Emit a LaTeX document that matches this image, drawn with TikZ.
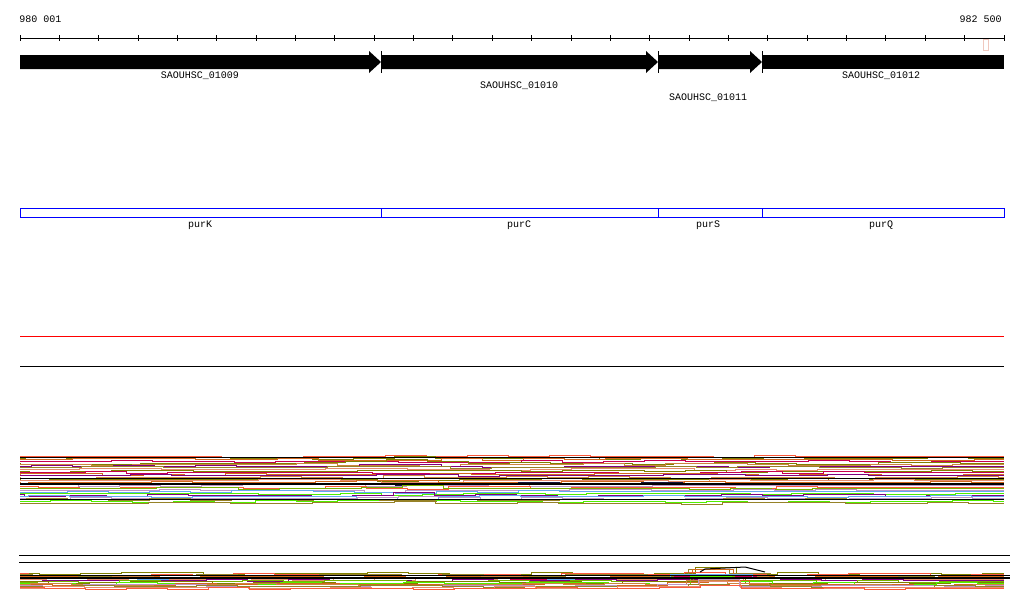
\documentclass[tikz,border=0pt]{standalone}
\usepackage{fontspec}
\setmainfont{Liberation Mono}
\usetikzlibrary{positioning}

\definecolor{olivetr}{RGB}{128,128,0}
\definecolor{rusttr}{RGB}{210,105,30}
\definecolor{tomatotr}{RGB}{250,90,60}
\definecolor{plumtr}{RGB}{128,0,128}
\definecolor{crimsontr}{RGB}{200,0,80}
\definecolor{tantr}{RGB}{205,133,63}
\definecolor{skytr}{RGB}{100,170,240}
\definecolor{limetr}{RGB}{80,240,0}
\definecolor{lilactr}{RGB}{190,150,200}
\definecolor{navytr}{RGB}{20,20,60}
\definecolor{khakitr}{RGB}{150,130,40}
\definecolor{salmontr}{RGB}{230,140,110}
\definecolor{greentr}{RGB}{120,180,0}
\definecolor{pinkbox}{RGB}{240,200,190}

\tikzset{
  lbl/.style={font=\fontsize{10}{11}\selectfont, inner sep=0pt},
  track/.style={line width=1pt},
  gene/.style={fill=black},
  featbox/.style={draw=blue, line width=1pt}
}

\begin{document}
\begin{tikzpicture}[x=1pt, y=-1pt, line width=1pt]
\useasboundingbox[fill=white] (0,0) rectangle (1024,611);
\pgfmathsetseed{11}

% ruler
\node[lbl, anchor=west] (start) at (19,19) {980 001};
\node[lbl, anchor=east] (stop) at (1002,19) {982 500};
\draw (20,38) -- (1004,38);
\foreach \t in {0,...,25}
  \draw ({20+\t*39.36},35) -- ++(0,6);
\draw[pinkbox] (983,39) rectangle (988,50);

% genes
\foreach \xa/\xb in {20/381, 382/658, 659/762}
  \fill[gene] (\xa,55) -- ({\xb-12},55) -- ({\xb-12},51) -- (\xb,62)
    -- ({\xb-12},73) -- ({\xb-12},69) -- (\xa,69) -- cycle;
\fill[gene] (763,55) rectangle (1004,69);
\foreach \xs in {381,658,762}
  \draw (\xs,51) -- (\xs,73);
\node[lbl] (g09) at (200,76) {SAOUHSC\_01009};
\node[lbl] (g10) at (519,86) {SAOUHSC\_01010};
\node[lbl] (g11) at (708,98) {SAOUHSC\_01011};
\node[lbl] (g12) at (881,76) {SAOUHSC\_01012};

% features
\foreach \xa/\xb in {20/381, 381/658, 658/762, 762/1004}
  \draw[featbox] (\xa,208) rectangle (\xb,217);
\node[lbl] (purK) at (200,225) {purK};
\node[lbl] (purC) at (519,225) {purC};
\node[lbl] (purS) at (708,225) {purS};
\node[lbl] (purQ) at (881,225) {purQ};

% lines
\draw[red] (20,336) -- (1004,336);
\draw (20,366) -- (1004,366);
\draw (19,555) -- (1010,555);
\draw (19,562) -- (1010,562);

% coverage band 1
\foreach \c [count=\i] in {tomatotr, olivetr, rusttr, crimsontr, olivetr, tantr,
    plumtr, khakitr, salmontr, olivetr, crimsontr, rusttr, plumtr, tantr,
    olivetr, salmontr, rusttr, navytr, lilactr, tomatotr, greentr, lilactr,
    skytr, limetr, plumtr, skytr, lilactr, khakitr, limetr, khakitr} {
  \pgfmathsetmacro{\yb}{455+\i*1.6}
  \pgfmathsetmacro{\amp}{3*rand}
  \pgfmathsetmacro{\off}{int(40*rnd)}
  \draw[track, \c] (20,\yb) \foreach \k in {0,...,23} {
    |- ({20+\off+\k*41},{\yb+round(0.8*rand)-\amp*max(0,1-abs(20+\off+\k*41-430)/45)}) }
    |- (1004,\yb);
}
\draw[track] (20,457) -- (1004,457);
\draw[track] (20,478) -- (1004,478);
\draw[line width=1.5pt] (20,484) -- (1004,484);
\draw[track] (20,499) -- (1004,499);

% coverage band 2
\foreach \c [count=\i] in {olivetr, tomatotr, khakitr, rusttr, tantr, crimsontr,
    skytr, salmontr, plumtr, greentr, olivetr, limetr, rusttr, tantr,
    lilactr, khakitr, salmontr, tomatotr} {
  \pgfmathsetmacro{\yb}{573+\i*0.85}
  \pgfmathsetmacro{\amp}{3+5*rnd}
  \pgfmathsetmacro{\off}{int(40*rnd)}
  \draw[track, \c] (20,\yb) \foreach \k in {0,...,23} {
    |- ({20+\off+\k*41},{\yb+round(rand)-\amp*max(0,1-abs(20+\off+\k*41-735)/45)}) }
    |- (1004,\yb);
}
\draw[track] (20,575) -- (1010,575);
\draw[line width=1.5pt] (20,578) -- (1010,578);
\draw[track] (700,572) -- (705,569) -- (745,567) -- (765,572);
\end{tikzpicture}
\end{document}
